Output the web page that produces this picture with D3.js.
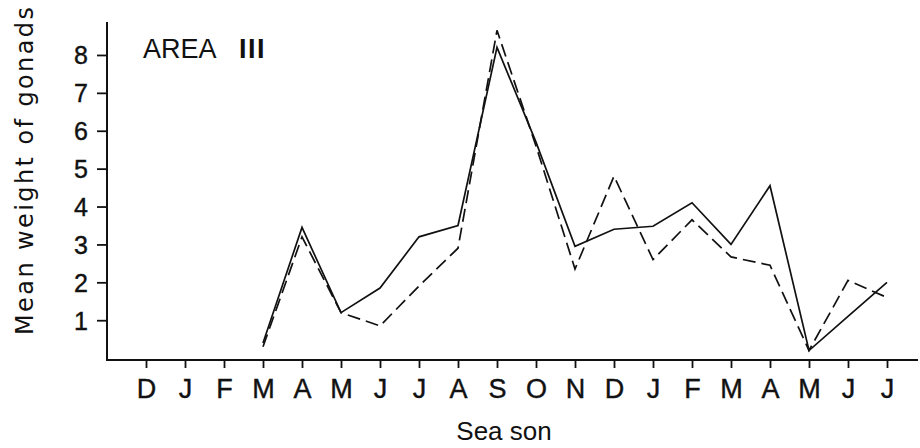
<!DOCTYPE html>
<html>
<head>
<meta charset="utf-8">
<script src="https://cdn.jsdelivr.net/npm/d3@7"></script>
<style>
  html, body { margin: 0; padding: 0; background: #fff; }
  svg { display: block; }
  text { fill: #111; }
</style>
</head>
<body>
<svg id="chart" width="920" height="448"></svg>
<script>
// Months of the sampling season (Dec through the following July, two years)
const months = ["D","J","F","M","A","M","J","J","A","S","O","N","D","J","F","M","A","M","J","J"];
const yTicks = [1, 2, 3, 4, 5, 6, 7, 8];

// Mean gonad weight; null where no sample was taken
const solidSeries  = [null, null, null, 0.4, 3.45, 1.2, 1.85, 3.2, 3.5, 8.2, 5.7, 2.95, 3.4, 3.48, 4.1, 3.0, 4.55, 0.2, 1.1, 2.0];
const dashedSeries = [null, null, null, 0.3, 3.2, 1.2, 0.85, 1.9, 2.9, 8.65, 5.6, 2.35, 4.8, 2.6, 3.65, 2.67, 2.45, 0.2, 2.05, 1.6];

const svg = d3.select("#chart");
const font = "'Liberation Sans', Arial, sans-serif";

const x = d3.scalePoint().domain(d3.range(months.length)).range([146, 887]);
const y = d3.scaleLinear().domain([-0.05, 8.87]).range([360, 22]);

const ink = "#111";

// Axis lines
svg.append("line")
  .attr("x1", 107).attr("x2", 107).attr("y1", y(8.87)).attr("y2", y(-0.05))
  .attr("stroke", ink).attr("stroke-width", 2);
svg.append("line")
  .attr("x1", 106).attr("x2", 918).attr("y1", y(-0.05)).attr("y2", y(-0.05))
  .attr("stroke", ink).attr("stroke-width", 2);

// Y axis ticks and labels
const yAxis = svg.append("g").attr("transform", "translate(107,0)")
  .call(d3.axisLeft(y).tickValues(yTicks).tickSize(10).tickSizeOuter(0).tickPadding(9));
yAxis.select(".domain").remove();
yAxis.selectAll(".tick line").attr("stroke", ink).attr("stroke-width", 1.8);
yAxis.selectAll(".tick text")
  .attr("font-family", font).attr("font-size", 25).attr("fill", ink)
  .attr("stroke", ink).attr("stroke-width", 0.4)
  .attr("dy", "0.36em");

// X axis ticks and month labels
const xAxis = svg.append("g").attr("transform", `translate(0,${y(-0.05)})`)
  .call(d3.axisBottom(x).tickSize(8).tickSizeOuter(0).tickPadding(11).tickFormat(i => months[i]));
xAxis.select(".domain").remove();
xAxis.selectAll(".tick line").attr("stroke", ink).attr("stroke-width", 1.8);
xAxis.selectAll(".tick text")
  .attr("font-family", font).attr("font-size", 27).attr("fill", ink)
  .attr("stroke", ink).attr("stroke-width", 0.4);

// Series lines
const line = d3.line()
  .defined(d => d != null)
  .x((d, i) => x(i))
  .y(d => y(d));

svg.append("path")
  .datum(solidSeries)
  .attr("d", line)
  .attr("fill", "none").attr("stroke", ink).attr("stroke-width", 1.7)
  .attr("stroke-linejoin", "miter");

svg.append("path")
  .datum(dashedSeries)
  .attr("d", line)
  .attr("fill", "none").attr("stroke", ink).attr("stroke-width", 1.7)
  .attr("stroke-dasharray", "13,6")
  .attr("stroke-linejoin", "miter");

// Y axis title
svg.append("text")
  .attr("transform", "translate(33,171) rotate(-90)")
  .attr("text-anchor", "middle")
  .attr("font-family", "'DejaVu Sans', sans-serif").attr("font-size", 24)
  .attr("textLength", 328).attr("lengthAdjust", "spacing")
  .text("Mean weight of gonads");

// Panel label
const area = svg.append("text")
  .attr("x", 143).attr("y", 58)
  .attr("font-family", font).attr("font-size", 27);
area.append("tspan").text("AREA");
area.append("tspan").attr("x", 239).attr("font-weight", "bold").attr("letter-spacing", 1.5).text("III");

// X axis title
svg.append("text")
  .attr("x", 504).attr("y", 440)
  .attr("text-anchor", "middle")
  .attr("font-family", font).attr("font-size", 26)
  .text("Sea son");
</script>
</body>
</html>
